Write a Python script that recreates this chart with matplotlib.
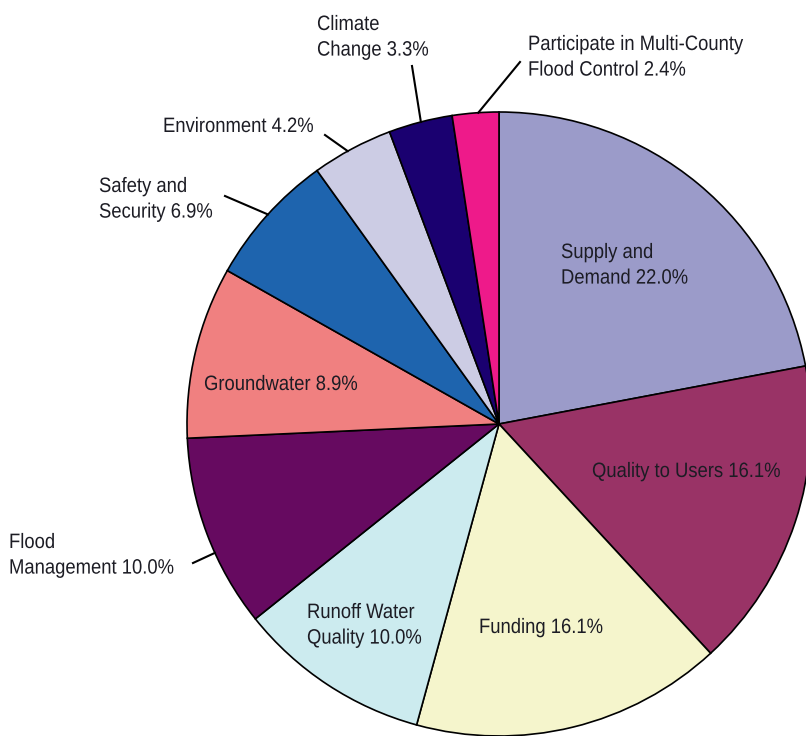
import matplotlib
matplotlib.use("Agg")
import matplotlib.pyplot as plt
import numpy as np
from matplotlib.patheffects import AbstractPathEffect
from matplotlib.transforms import Affine2D

categories = ["Supply and\nDemand", "Quality to Users", "Funding", "Runoff Water\nQuality",
              "Flood\nManagement", "Groundwater", "Safety and\nSecurity", "Environment",
              "Climate\nChange", "Participate in Multi-County\nFlood Control"]
values = [22.0, 16.1, 16.1, 10.0, 10.0, 8.9, 6.9, 4.2, 3.3, 2.4]
colors = ["#9B9BC9", "#993366", "#F5F5CC", "#CCEBEF", "#660A60",
          "#F08080", "#1E64AE", "#CCCCE4", "#1A0070", "#EE1A8A"]

plt.rcParams["font.family"] = ["Liberation Sans", "DejaVu Sans"]


class Condense(AbstractPathEffect):
    """Horizontally condense glyphs about a display-x anchor (narrow-font look)."""
    def __init__(self, x0, sx):
        super().__init__()
        self.x0, self.sx = x0, sx

    def draw_path(self, renderer, gc, tpath, affine, rgbFace=None):
        a = affine + Affine2D().translate(-self.x0, 0).scale(self.sx, 1).translate(self.x0, 0)
        renderer.draw_path(gc, tpath, a, rgbFace)


W, H = 806, 736
fig = plt.figure(figsize=(W / 100, H / 100), dpi=100)
ax = fig.add_axes([0, 0, 1, 1])

cx, cy, R = 499, H - 424, 312
wedges, _ = ax.pie(values, colors=colors, startangle=90, counterclock=False,
                   center=(cx, cy), radius=R, frame=True,
                   wedgeprops=dict(edgecolor="black", linewidth=1.2))
ax.set_xlim(0, W)
ax.set_ylim(0, H)
ax.set_aspect("equal")
ax.axis("off")


def lab(i):
    return f"{categories[i]} {values[i]:.1f}%"


fs = 15
sx = 0.885
ls = 1.44
tc = "#1c1c24"


def put(i, x, y):
    ax.text(x, H - y, lab(i), ha="left", va="top", fontsize=fs, color=tc,
            linespacing=ls, path_effects=[Condense(x, sx)])


# inside labels (pixel top-left positions)
inside = {0: (561, 243), 1: (592, 462), 2: (479, 618), 3: (307, 603), 5: (204, 375)}
for i, (x, y) in inside.items():
    put(i, x, y)

# outside labels: (text x, text top y, line end x, line end y, rim angle deg)
outside = {9: (528, 35, 520, 62, 93.8), 8: (317, 15, 412, 66, 104.5),
           7: (163, 117, 325, 135, 119.0), 6: (99, 177, 225, 196, 137.8),
           4: (9, 533, 193, 563, 204.4)}
for i, (x, y, lx, ly, a) in outside.items():
    put(i, x, y)
    ang = np.deg2rad(a)
    rx, ry = cx + R * np.cos(ang), cy + R * np.sin(ang)
    ax.plot([rx, lx], [ry, H - ly], color="black", lw=1.5)

fig.savefig("out.png", dpi=100, facecolor="white")
